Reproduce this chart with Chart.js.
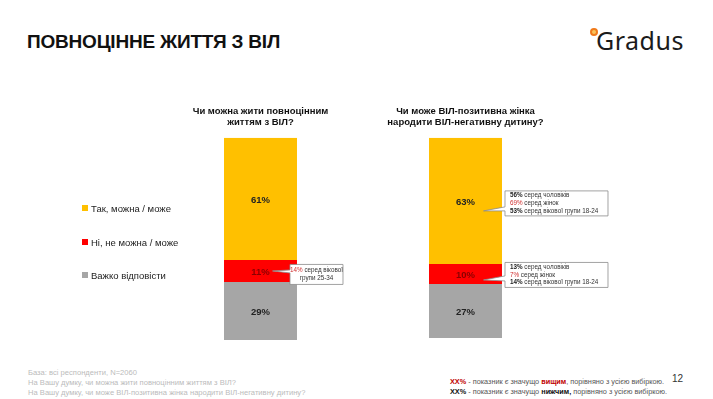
<!DOCTYPE html>
<html>
<head>
<meta charset="utf-8">
<script src="https://cdn.jsdelivr.net/npm/chart.js@4/dist/chart.umd.min.js"></script>
<style>
  body { margin: 0; background: #fff; font-family: "Liberation Sans", Arial, sans-serif; }
  #page { position: relative; width: 713px; height: 399px; overflow: hidden; }
  #title { position: absolute; left: 27px; top: 31px; font-size: 19px; font-weight: bold; color: #111; letter-spacing: -0.2px; }
  #logo { position: absolute; left: 596px; top: 23px; font-family: "Noto Sans", sans-serif; font-size: 25px; color: #1b1b1b; letter-spacing: 0.5px; }
  #logo .dot { position: absolute; left: -6px; top: 5px; width: 4px; height: 4px; border: 2px solid #f07a1a; border-radius: 50%; background: #f9c35a; }
  #chartBox { position: absolute; left: 0; top: 90px; width: 713px; height: 260px; }
  #legend { position: absolute; left: 82px; top: 202px; font-size: 9.5px; color: #222; }
  #legend div { height: 33.5px; line-height: 14px; white-space: nowrap; }
  #legend span { display: inline-block; width: 6px; height: 6px; margin-right: 3px; vertical-align: 1px; }
  #foot { position: absolute; left: 28px; top: 368px; font-size: 7.6px; line-height: 10px; color: #bbb; }
  #note { position: absolute; left: 450px; top: 377px; font-size: 7.3px; line-height: 10px; color: #555; }
  #note b.hi { color: #c00000; }
  #note b.lo { color: #111; }
  #pageNo { position: absolute; left: 672px; top: 373px; font-size: 10px; color: #333; }
</style>
</head>
<body>
<div id="page">
  <div id="title">ПОВНОЦІННЕ ЖИТТЯ З ВІЛ</div>
  <div id="logo"><span class="dot"></span>Gradus</div>
  <div id="chartBox"><canvas id="myChart"></canvas></div>
  <div id="legend"></div>
  <div id="foot">База: всі респонденти, N=2060<br>На Вашу думку, чи можна жити повноцінним життям з ВІЛ?<br>На Вашу думку, чи може ВІЛ-позитивна жінка народити ВІЛ-негативну дитину?</div>
  <div id="note"><b class="hi">XX%</b> - показник є значущо <b class="hi">вищим</b>, порівняно з усією вибіркою.<br><b class="lo">XX%</b> - показник є значущо <b class="lo">нижчим,</b> порівняно з усією вибіркою.</div>
  <div id="pageNo">12</div>
</div>
<script>
const questions = [
  ['Чи можна жити повноцінним', 'життям з ВІЛ?'],
  ['Чи може ВІЛ-позитивна жінка', 'народити ВІЛ-негативну дитину?'],
];

const answers = ['Так, можна / може', 'Ні, не можна / може', 'Важко відповісти'];
const yesValues = [61, 63];
const noValues = [11, 10];
const hardValues = [29, 27];

// callout notes: [pct, text, highlighted-red]
const notesQ1No = [['14%', ' серед вікової', true], ['', 'групи 25-34', false]];
const notesQ2Yes = [['56%', ' серед чоловіків', false], ['69%', ' серед жінок', true], ['53%', ' серед вікової групи 18-24', false]];
const notesQ2No = [['13%', ' серед чоловіків', false], ['7%', ' серед жінок', true], ['14%', ' серед вікової групи 18-24', false]];

const colors = ['#ffc000', '#ff0000', '#a6a6a6'];

// legend
const legendEl = document.getElementById('legend');
answers.forEach((a, i) => {
  const d = document.createElement('div');
  d.innerHTML = '<span style="background:' + colors[i] + '"></span>' + a;
  legendEl.appendChild(d);
});

const valueLabels = {
  id: 'valueLabels',
  afterDatasetsDraw(chart) {
    const ctx = chart.ctx;
    ctx.save();
    ctx.font = 'bold 9.5px "Liberation Sans", Arial, sans-serif';
    ctx.textAlign = 'center';
    ctx.textBaseline = 'middle';
    chart.data.datasets.forEach((ds, di) => {
      chart.getDatasetMeta(di).data.forEach((bar, i) => {
        const p = bar.getProps(['x', 'y', 'base'], true);
        ctx.fillStyle = di === 1 ? '#8a0000' : '#222';
        ctx.fillText(ds.data[i] + '%', p.x, (p.y + p.base) / 2 + 1);
      });
    });
    ctx.restore();
  }
};

// boxes with a pointer, placed next to a bar segment
const callouts = {
  id: 'callouts',
  afterDatasetsDraw(chart, args, opts) {
    const ctx = chart.ctx;
    const f = '6.3px "Liberation Sans", Arial, sans-serif';
    opts.items.forEach(it => {
      const bar = chart.getDatasetMeta(it.ds).data[it.idx];
      const p = bar.getProps(['x', 'y', 'base', 'width'], true);
      const cy = (p.y + p.base) / 2;
      const x0 = p.x + p.width / 2 + it.dx;
      const y0 = cy + it.dy - it.h / 2;
      const x1 = x0 + it.w, y1 = y0 + it.h;
      const tipX = p.x + it.tipX, tipY = cy + it.tipY;
      ctx.save();
      ctx.beginPath();
      ctx.moveTo(x0, y0);
      ctx.lineTo(x1, y0);
      ctx.lineTo(x1, y1);
      ctx.lineTo(x0, y1);
      ctx.lineTo(x0, it.wedge[1] + cy);
      ctx.lineTo(tipX, tipY);
      ctx.lineTo(x0, it.wedge[0] + cy);
      ctx.closePath();
      ctx.fillStyle = '#fff';
      ctx.fill();
      ctx.strokeStyle = '#8c8c8c';
      ctx.lineWidth = 0.8;
      ctx.stroke();
      ctx.textBaseline = 'middle';
      ctx.textAlign = 'left';
      const lh = 7.8;
      const top = (y0 + y1) / 2 - (it.lines.length - 1) * lh / 2;
      it.lines.forEach((ln, k) => {
        const y = top + k * lh;
        ctx.font = (ln[2] ? '' : 'bold ') + f;
        const wPct = ctx.measureText(ln[0]).width;
        ctx.font = f;
        const wTxt = ctx.measureText(ln[1]).width;
        const x = it.center ? (x0 + x1) / 2 - (wPct + wTxt) / 2 : x0 + 5;
        ctx.fillStyle = ln[2] ? '#d03030' : '#222';
        ctx.font = (ln[2] ? '' : 'bold ') + f;
        ctx.fillText(ln[0], x, y);
        ctx.font = f;
        ctx.fillStyle = '#333';
        ctx.fillText(ln[1], x + wPct, y);
      });
      ctx.restore();
    });
  }
};

const data = {
  labels: questions,
  datasets: [
    { label: answers[0], data: yesValues, backgroundColor: colors[0] },
    { label: answers[1], data: noValues, backgroundColor: colors[1] },
    { label: answers[2], data: hardValues, backgroundColor: colors[2] },
  ],
};

const config = {
  type: 'bar',
  data: data,
  plugins: [valueLabels, callouts],
  options: {
    responsive: true,
    maintainAspectRatio: false,
    animation: false,
    barPercentage: 0.356,
    categoryPercentage: 1,
    layout: { padding: { left: 158, right: 145, top: 14, bottom: 10 } },
    plugins: {
      legend: { display: false },
      tooltip: { enabled: false },
      callouts: {
        items: [
          { ds: 1, idx: 0, lines: notesQ1No, dx: -7, dy: 3.5, w: 53, h: 20, center: true, tipX: 12, tipY: 0, wedge: [-1, 2] },
          { ds: 0, idx: 1, lines: notesQ2Yes, dx: 3, dy: 2.5, w: 103, h: 25, center: false, tipX: 18, tipY: 10, wedge: [6, 10] },
          { ds: 1, idx: 1, lines: notesQ2No, dx: 3, dy: 1, w: 103, h: 25, center: false, tipX: 18, tipY: 6, wedge: [2, 7] },
        ],
      },
    },
    scales: {
      x: {
        stacked: true,
        position: 'top',
        grid: { display: false },
        border: { display: false },
        ticks: {
          color: '#111',
          font: { family: '"Liberation Sans", Arial, sans-serif', size: 9.5, weight: 'bold', lineHeight: 1.15 },
          padding: 2,
          maxRotation: 0,
          autoSkip: false,
        },
      },
      y: {
        stacked: true,
        display: false,
        reverse: true,
        min: 0,
        max: 101,
      },
    },
  },
};

const myChart = new Chart(document.getElementById('myChart').getContext('2d'), config);
</script>
</body>
</html>
